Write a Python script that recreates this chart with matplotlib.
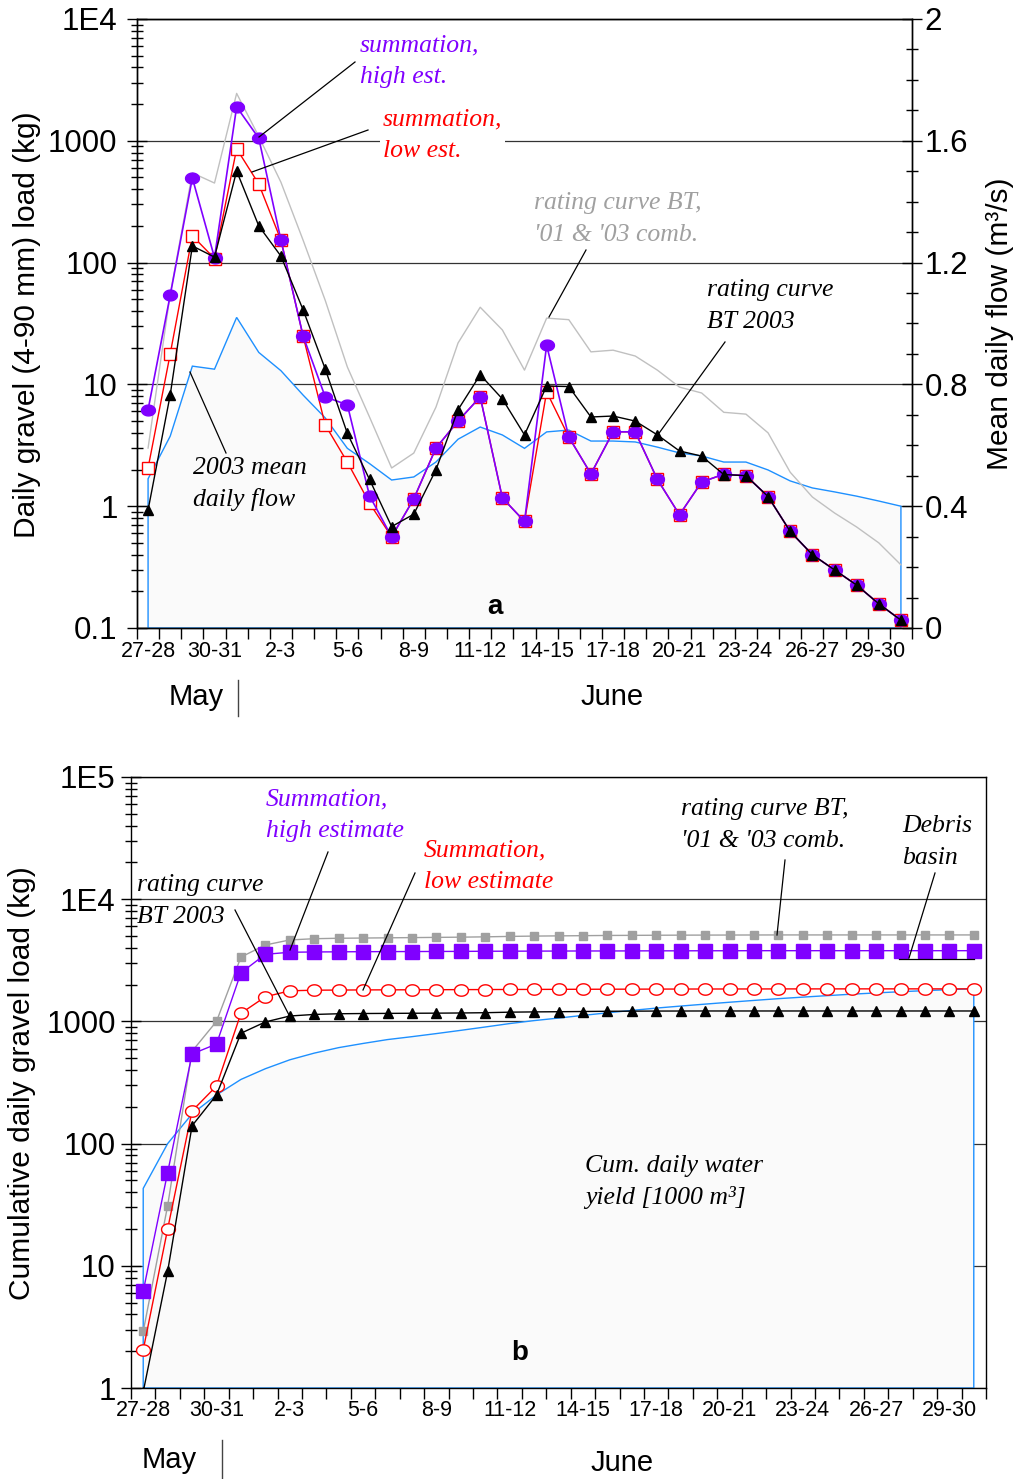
import numpy as np
import matplotlib
matplotlib.use('Agg')
import matplotlib.pyplot as plt
from matplotlib.path import Path
from matplotlib.lines import Line2D
from matplotlib.ticker import FixedLocator, LogLocator, NullFormatter

# ---------------- data ----------------
days = ["27-28", "28-29", "29-30", "30-31", "31-1",
        "1-2", "2-3", "3-4", "4-5", "5-6", "6-7", "7-8", "8-9", "9-10", "10-11",
        "11-12", "12-13", "13-14", "14-15", "15-16", "16-17", "17-18", "18-19",
        "19-20", "20-21", "21-22", "22-23", "23-24", "24-25", "25-26", "26-27",
        "27-28", "28-29", "29-30", "30-1"]
label_every = 3

# panel a: daily values
flow = [0.49, 0.63, 0.86, 0.85, 1.02, 0.905, 0.845, 0.765, 0.69, 0.59, 0.54, 0.486,
        0.496, 0.545, 0.62, 0.66, 0.634, 0.59, 0.644, 0.65, 0.614, 0.614, 0.611, 0.594,
        0.575, 0.565, 0.545, 0.545, 0.519, 0.483, 0.46, 0.447, 0.433, 0.417, 0.40]
rc_comb = [3.0, 55, 545, 450, 2450, 1085, 457, 153, 49, 13.9, 5.4, 2.06, 2.73, 6.5,
           21.9, 43, 28, 13.1, 35, 34, 18.5, 19.1, 17.1, 13.1, 9.5, 8.5, 5.9, 5.7,
           4.0, 1.9, 1.19, 0.88, 0.675, 0.5, 0.33]
sum_high = [6.2, 54, 495, 110, 1900, 1050, 153, 25, 7.9, 6.8, 1.22, 0.56, 1.15, 3.0,
            5.0, 7.9, 1.17, 0.75, 21, 3.7, 1.84, 4.08, 4.08, 1.66, 0.85, 1.58, 1.83,
            1.78, 1.2, 0.62, 0.40, 0.30, 0.225, 0.158, 0.116]
sum_low = [2.06, 17.8, 166, 108, 860, 442, 153, 25, 4.65, 2.3, 1.06, 0.56, 1.15, 3.0,
           5.0, 7.9, 1.17, 0.75, 8.7, 3.7, 1.84, 4.08, 4.08, 1.66, 0.85, 1.58, 1.83,
           1.78, 1.2, 0.62, 0.40, 0.30, 0.225, 0.158, 0.116]
bt2003 = [0.93, 8.2, 137, 111, 565, 200, 113, 41, 13.4, 3.96, 1.66, 0.68, 0.86, 1.99,
          6.2, 12, 7.6, 3.85, 9.7, 9.6, 5.4, 5.5, 5.0, 3.85, 2.84, 2.58, 1.82, 1.78,
          1.2, 0.62, 0.40, 0.30, 0.225, 0.158, 0.116]

# panel b: cumulative values
cum_water = [43, 100, 175, 250, 335, 410, 485, 550, 610, 660, 710, 750, 795, 845, 900,
             960, 1015, 1065, 1120, 1175, 1230, 1285, 1335, 1385, 1435, 1485, 1535,
             1580, 1625, 1670, 1710, 1750, 1785, 1820, 1850]
cum_rc_comb = [2.9, 31, 570, 1000, 3360, 4220, 4640, 4750, 4790, 4810, 4830, 4850,
               4870, 4890, 4920, 4960, 4990, 5010, 5030, 5050, 5060, 5070, 5080, 5085,
               5090, 5095, 5100, 5100, 5100, 5100, 5100, 5100, 5100, 5100, 5100]
cum_high = [6.2, 58, 541, 653, 2500, 3540, 3680, 3700, 3710, 3720, 3725, 3730, 3735,
            3740, 3750, 3755, 3760, 3765, 3770, 3770, 3775, 3780, 3780, 3785, 3785,
            3790, 3790, 3790, 3790, 3790, 3790, 3790, 3790, 3790, 3790]
cum_low = [2.05, 20, 185, 296, 1165, 1590, 1780, 1800, 1805, 1810, 1812, 1815, 1817,
           1820, 1822, 1825, 1827, 1830, 1832, 1834, 1836, 1838, 1840, 1841, 1842,
           1843, 1844, 1845, 1845, 1846, 1846, 1846, 1846, 1846, 1846]
cum_bt = [0.93, 9.0, 140, 250, 800, 990, 1107, 1140, 1155, 1160, 1163, 1166, 1168,
          1172, 1178, 1190, 1196, 1200, 1205, 1210, 1213, 1215, 1216, 1217, 1217,
          1217, 1217, 1217, 1217, 1217, 1217, 1217, 1217, 1217, 1217]

# ---------------- styling ----------------
plt.rcParams['font.family'] = ['Liberation Sans', 'DejaVu Sans']
SERIF = ['Liberation Serif', 'DejaVu Serif']
PURPLE = '#8000ff'
RED = '#ff0000'
BLUE = '#1e90ff'
FILL = '#fafafa'
GRID = '#333333'

W, H = 1022, 1479
fig = plt.figure(figsize=(W / 100, H / 100), dpi=100)


def fx(p):
    return p / W


def fy(p):
    return 1 - p / H


t = np.linspace(0, 2 * np.pi, 49)
ellipse = Path(np.c_[np.cos(t), 0.78 * np.sin(t)])
ellipse_b = Path(np.c_[np.cos(t), 0.82 * np.sin(t)])

x = np.arange(len(days))
lab_pos = x[::label_every][:12]
lab_txt = [days[i] for i in lab_pos]

YTICK_FS = 22.5

# ================= panel a =================
axf = fig.add_axes([fx(137), fy(628), fx(912) - fx(137), fy(19) - fy(628)])
axf.fill(np.r_[x[0], x, x[-1]], np.r_[0, flow, 0], facecolor=FILL,
         edgecolor=BLUE, lw=1.0, zorder=1)
axf.set_xlim(-0.5, 34.5)
axf.set_ylim(0, 2)

axg = axf.twinx()
axf.yaxis.tick_right()
axf.yaxis.set_label_position('right')
axg.yaxis.tick_left()
axg.yaxis.set_label_position('left')

axf.set_yticks(np.arange(0, 2.01, 0.4))
axf.set_yticklabels(['0', '0.4', '0.8', '1.2', '1.6', '2'])
axf.yaxis.set_minor_locator(FixedLocator(np.arange(0, 2.01, 0.1)))
axf.grid(axis='y', which='major', color=GRID, lw=0.9)
axf.set_axisbelow(True)
axf.tick_params(axis='y', which='major', direction='inout', length=14, width=1,
                labelsize=YTICK_FS, pad=2)
axf.tick_params(axis='y', which='minor', direction='inout', length=8, width=1)

axf.set_xticks(np.arange(-0.5, 35, 1))
axf.set_xticklabels([])
axf.set_xticks(lab_pos, labels=lab_txt, minor=True)
axf.tick_params(axis='x', which='major', direction='out', length=8, width=1)
axf.tick_params(axis='x', which='minor', length=0, labelsize=15.5, pad=9.5)

axg.set_yscale('log')
axg.set_ylim(0.1, 1e4)
axg.set_xlim(-0.5, 34.5)
axg.set_yticks([0.1, 1, 10, 100, 1000, 1e4])
axg.set_yticklabels(['0.1', '1', '10', '100', '1000', '1E4'])
axg.yaxis.set_minor_locator(LogLocator(base=10, subs=np.arange(2, 10), numticks=20))
axg.yaxis.set_minor_formatter(NullFormatter())
axg.tick_params(axis='y', which='major', direction='inout', length=14, width=1,
                labelsize=YTICK_FS, pad=7)
axg.tick_params(axis='y', which='minor', direction='inout', length=8, width=1)

axg.plot(x, rc_comb, color='#c0c0c0', lw=1.0, zorder=2)
axg.plot(x, sum_low, color=RED, lw=1.0, marker='s', ms=8, mfc='white', mec=RED,
         mew=1.0, zorder=3)
axg.plot(x, sum_high, color=PURPLE, lw=1.2, marker=ellipse, ms=10, mfc=PURPLE,
         mec=PURPLE, zorder=4)
axg.plot(x, bt2003, color='black', lw=1.0, marker='^', ms=7, zorder=5)

for a in (axf, axg):
    for s in a.spines.values():
        s.set_linewidth(1.0)

fig.text(fx(27), fy(325), 'Daily gravel (4-90 mm) load (kg)', rotation=90,
         ha='center', va='center', fontsize=21.5)
fig.text(fx(1000), fy(324), 'Mean daily flow (m³/s)', rotation=90,
         ha='center', va='center', fontsize=21.5)

# ================= panel b =================
axb = fig.add_axes([fx(131), fy(1388), fx(986) - fx(131), fy(777) - fy(1388)])
axb.set_yscale('log')
axb.set_ylim(1, 1e5)
axb.set_xlim(-0.5, 34.5)
axb.fill(np.r_[x[0], x, x[-1]], np.r_[1, cum_water, 1], facecolor=FILL,
         edgecolor=BLUE, lw=1.0, zorder=1)
axb.set_yticks([1, 10, 100, 1000, 1e4, 1e5])
axb.set_yticklabels(['1', '10', '100', '1000', '1E4', '1E5'])
axb.yaxis.set_minor_locator(LogLocator(base=10, subs=np.arange(2, 10), numticks=20))
axb.yaxis.set_minor_formatter(NullFormatter())
axb.grid(axis='y', which='major', color=GRID, lw=0.9)
axb.set_axisbelow(True)
axb.tick_params(axis='y', which='major', direction='inout', length=14, width=1,
                labelsize=YTICK_FS, pad=4)
axb.tick_params(axis='y', which='minor', direction='inout', length=8, width=1)
axb.set_xticks(np.arange(-0.5, 35, 1))
axb.set_xticklabels([])
axb.set_xticks(lab_pos, labels=lab_txt, minor=True)
axb.tick_params(axis='x', which='major', direction='out', length=8, width=1)
axb.tick_params(axis='x', which='minor', length=0, labelsize=15.5, pad=8.5)

axb.plot(x, cum_rc_comb, color='#a0a0a0', lw=1.0, marker='s', ms=5.5,
         mfc='#a0a0a0', mec='#a0a0a0', zorder=2)
axb.plot(x, cum_high, color=PURPLE, lw=1.0, marker='s', ms=9.5, mfc=PURPLE,
         mec=PURPLE, zorder=3)
axb.plot(x, cum_low, color=RED, lw=1.0, marker=ellipse_b, ms=10, mfc='white',
         mec=RED, mew=1.0, zorder=4)
axb.plot(x, cum_bt, color='black', lw=1.0, marker='^', ms=7, zorder=5)
for s in axb.spines.values():
    s.set_linewidth(1.0)

fig.text(fx(22), fy(1083), 'Cumulative daily gravel load (kg)', rotation=90,
         ha='center', va='center', fontsize=21.5)

# ================= annotations =================
ann = dict(fontsize=18.5, family=SERIF, style='italic', ha='left', va='center',
           linespacing=1.55)
fig.text(fx(360), fy(61), 'summation,\nhigh est.', color=PURPLE, **ann)
fig.text(fx(383), fy(135), 'summation,\nlow est.', color=RED,
         bbox=dict(facecolor='white', edgecolor='none', pad=2), **ann)
fig.text(fx(534), fy(219), "rating curve BT,\n'01 & '03 comb.", color='#a0a0a0', **ann)
fig.text(fx(707), fy(306), 'rating curve\nBT 2003', color='black', **ann)
fig.text(fx(193), fy(484), '2003 mean\ndaily flow', color='black', **ann)
fig.text(fx(495), fy(607), 'a', fontsize=20, fontweight='bold', ha='center', va='center')

fig.text(fx(266), fy(815), 'Summation,\nhigh estimate', color=PURPLE, **ann)
fig.text(fx(424), fy(866), 'Summation,\nlow estimate', color=RED, **ann)
fig.text(fx(681), fy(825), "rating curve BT,\n'01 & '03 comb.", color='black', **ann)
fig.text(fx(902), fy(842), 'Debris\nbasin', color='black', **ann)
fig.text(fx(137), fy(901), 'rating curve\nBT 2003', color='black', **ann)
fig.text(fx(585), fy(1182), 'Cum. daily water\nyield [1000 m³]', color='black', **ann)
fig.text(fx(520), fy(1353), 'b', fontsize=20, fontweight='bold', ha='center', va='center')

leaders = [((355, 62), (259, 137)), ((368, 130), (252, 172)),
           ((586, 250), (549, 317)), ((725, 342), (657, 436)),
           ((226, 453), (190, 372)),
           ((328, 852), (290, 950)), ((415, 873), (363, 990)),
           ((785, 860), (777, 935)), ((935, 873), (909, 958)),
           ((899, 959), (974, 959)),
           ((235, 910), (289, 1015))]
for (x0, y0), (x1, y1) in leaders:
    fig.add_artist(Line2D([fx(x0), fx(x1)], [fy(y0), fy(y1)],
                          transform=fig.transFigure, color='black', lw=0.9))

# month labels
fig.text(fx(196), fy(697), 'May', fontsize=21, ha='center', va='center')
fig.text(fx(612), fy(697), 'June', fontsize=21, ha='center', va='center')
fig.add_artist(Line2D([fx(238), fx(238)], [fy(680), fy(716)],
                      transform=fig.transFigure, color='#444444', lw=1))
fig.text(fx(169), fy(1460), 'May', fontsize=21, ha='center', va='center')
fig.text(fx(622), fy(1463), 'June', fontsize=21, ha='center', va='center')
fig.add_artist(Line2D([fx(222), fx(222)], [fy(1440), fy(1478)],
                      transform=fig.transFigure, color='#444444', lw=1))

fig.savefig('out.png', dpi=100)
